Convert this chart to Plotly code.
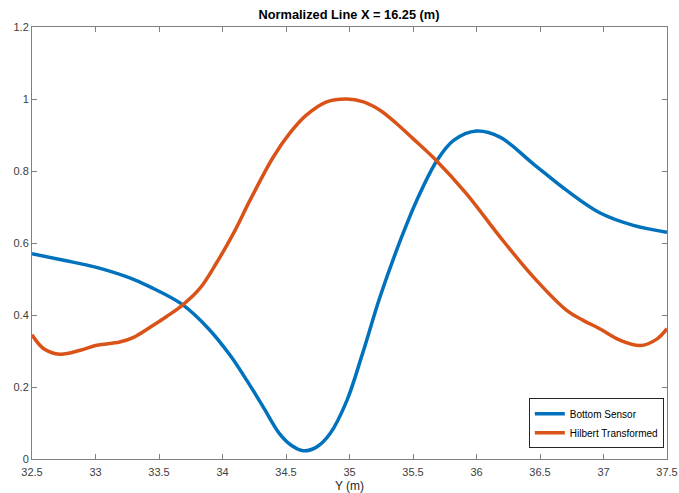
import plotly.graph_objects as go

# Data
y_pos_bottom = [32.5, 32.75, 33.0, 33.27, 33.43, 33.68, 33.89, 34.06, 34.19, 34.32, 34.45,
                34.55, 34.636, 34.74, 34.846, 34.98, 35.1, 35.24, 35.4, 35.53, 35.69, 35.82,
                36.0, 36.185, 36.447, 36.71, 36.97, 37.235, 37.5]
bottom_sensor = [0.57, 0.552, 0.533, 0.503, 0.478, 0.43, 0.362, 0.288, 0.219, 0.145, 0.07,
                 0.036, 0.023, 0.033, 0.07, 0.163, 0.29, 0.45, 0.607, 0.719, 0.83, 0.885,
                 0.911, 0.894, 0.82, 0.746, 0.684, 0.649, 0.63]

y_pos_hilbert = [32.5, 32.59, 32.72, 32.88, 33.01, 33.19, 33.3, 33.43, 33.56, 33.68, 33.82, 33.95,
                 34.085, 34.217, 34.4, 34.53, 34.66, 34.82, 34.98, 35.11, 35.24, 35.37, 35.5,
                 35.67, 35.92, 36.185, 36.447, 36.71, 36.84, 36.97, 37.13, 37.29, 37.42, 37.5]
hilbert = [0.345, 0.307, 0.291, 0.302, 0.316, 0.325, 0.338, 0.366, 0.396, 0.426, 0.473, 0.543,
           0.626, 0.719, 0.839, 0.905, 0.955, 0.992, 1.0, 0.992, 0.969, 0.932, 0.89,
           0.834, 0.737, 0.617, 0.506, 0.413, 0.385, 0.362, 0.33, 0.315, 0.333, 0.362]

x_ticks = [32.5, 33, 33.5, 34, 34.5, 35, 35.5, 36, 36.5, 37, 37.5]
x_tick_labels = ["32.5", "33", "33.5", "34", "34.5", "35", "35.5", "36", "36.5", "37", "37.5"]
y_ticks = [0, 0.2, 0.4, 0.6, 0.8, 1.0, 1.2]
y_tick_labels = ["0", "0.2", "0.4", "0.6", "0.8", "1", "1.2"]

FONT = "Liberation Sans, Arial, Helvetica, sans-serif"
AX = "#808080"
TXT = "#404040"

fig = go.Figure()
fig.add_trace(go.Scatter(x=y_pos_bottom, y=bottom_sensor, mode="lines", name="Bottom Sensor",
                         line=dict(color="#0072BD", width=3.5, shape="spline", smoothing=1.0)))
fig.add_trace(go.Scatter(x=y_pos_hilbert, y=hilbert, mode="lines", name="Hilbert Transformed",
                         line=dict(color="#D95319", width=3.5, shape="spline", smoothing=1.0)))

axis_common = dict(showgrid=False, zeroline=False, showline=True, linecolor=AX, linewidth=1,
                   mirror="ticks", ticks="inside", ticklen=5, tickcolor=AX, tickwidth=1,
                   automargin=False,
                   tickfont=dict(family=FONT, size=11, color=TXT))

fig.update_xaxes(range=[32.5, 37.5], tickvals=x_ticks, ticktext=x_tick_labels,
                 ticklabelstandoff=3,
                 title=dict(text="Y (m)", font=dict(family=FONT, size=12, color="#262626"), standoff=5),
                 **axis_common)
fig.update_yaxes(range=[0, 1.2], tickvals=y_ticks, ticktext=y_tick_labels, **axis_common)

fig.update_layout(
    width=679, height=493,
    margin=dict(l=32, r=12, t=27, b=34),
    paper_bgcolor="white", plot_bgcolor="white",
    title=dict(text="<b>Normalized Line X = 16.25 (m)</b>", x=0.514, xanchor="center",
               y=0.97, yanchor="middle",
               font=dict(family=FONT, size=12.8, color="#000000")),
    legend=dict(x=0.995, xanchor="right", y=0.025, yanchor="bottom",
                bgcolor="white", bordercolor="#262626", borderwidth=1,
                font=dict(family=FONT, size=10, color="#000000"),
                tracegroupgap=0, itemwidth=30),
    showlegend=True,
)

fig.write_html("out.html")
